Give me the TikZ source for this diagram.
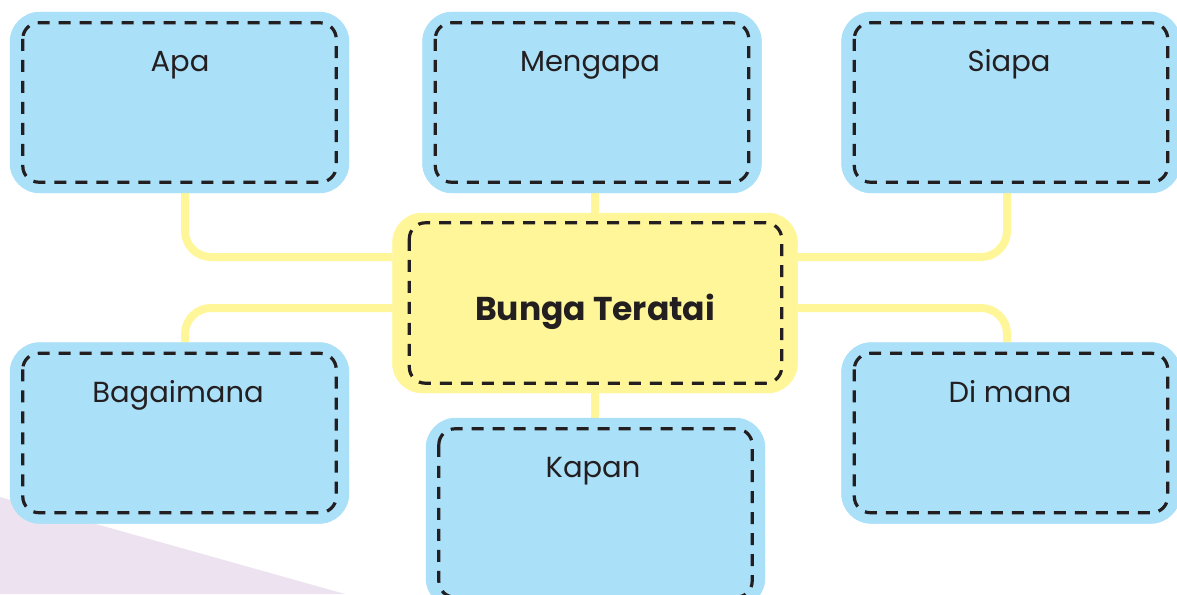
\documentclass[tikz,border=0pt]{standalone}
\usepackage{fontspec}
\setmainfont{Poppins}
\definecolor{boxblue}{HTML}{ABE0F9}
\definecolor{boxyellow}{HTML}{FFF699}
\definecolor{lav}{HTML}{EDE3F0}
\definecolor{ink}{HTML}{231F20}
\tikzset{
  bluebox/.style={fill=boxblue, rounded corners=30pt, minimum width=339pt, minimum height=181pt, inner sep=0pt},
  centerbox/.style={fill=boxyellow, rounded corners=30pt, minimum width=405pt, minimum height=180pt, inner sep=0pt},
  dashline/.style={draw=ink, line width=3.2pt, dash pattern=on 12pt off 9pt, rounded corners=16pt},
  conn/.style={draw=boxyellow, line width=8pt, rounded corners=26pt},
  lbl/.style={font=\fontsize{29}{31}\selectfont, text=ink, anchor=base, inner sep=0pt},
  title/.style={font=\fontsize{33}{36}\selectfont\bfseries, text=ink, anchor=base, inner sep=0pt}
}
\begin{document}
\begin{tikzpicture}[x=1pt, y=-1pt]
\useasboundingbox (0,0) rectangle (1177,594);
\fill[lav] (0,497) -- (345,594) -- (0,594) -- cycle;
\node[bluebox] (apa) at (179.5,102.5) {};
\node[bluebox] (mengapa) at (592,102.5) {};
\node[bluebox] (siapa) at (1011,102.5) {};
\node[bluebox] (bagaimana) at (179.5,433) {};
\node[bluebox] (dimana) at (1011,433) {};
\node[bluebox, minimum height=190pt] (kapan) at (595.5,513) {};
\node[centerbox] (center) at (595,303) {};
\draw[conn] ([xshift=5.5pt]apa.south) |- ([yshift=46pt]center.west);
\draw[conn] ([xshift=5.5pt]bagaimana.north) |- ([yshift=-5pt]center.west);
\draw[conn] ([xshift=-4pt]siapa.south) |- ([yshift=46pt]center.east);
\draw[conn] ([xshift=-4pt]dimana.north) |- ([yshift=-5pt]center.east);
\draw[conn] (mengapa.south -| center.north) -- (center.north);
\draw[conn] (center.south) -- (center.south |- kapan.north);
\foreach \n in {apa,mengapa,siapa,bagaimana,dimana,kapan}{
  \fill[boxblue, rounded corners=30pt] (\n.north west) rectangle (\n.south east);
  \draw[dashline] ([shift={(13pt,-11pt)}]\n.north west) rectangle ([shift={(-13pt,11pt)}]\n.south east);
}
\fill[boxyellow, rounded corners=30pt] (center.north west) rectangle (center.south east);
\draw[dashline] ([shift={(17pt,-10pt)}]center.north west) rectangle ([shift={(-16pt,10pt)}]center.south east);
\node[lbl] (tapa) at (180,71) {Apa};
\node[lbl] (tmengapa) at (590,71) {Mengapa};
\node[lbl] (tsiapa) at (1009,71) {Siapa};
\node[lbl] (tbagaimana) at (178,402) {Bagaimana};
\node[lbl] (tdimana) at (1010,402) {Di mana};
\node[lbl] (tkapan) at (593,477) {Kapan};
\node[title] (tcenter) at (595,320) {Bunga Teratai};
\end{tikzpicture}
\end{document}
